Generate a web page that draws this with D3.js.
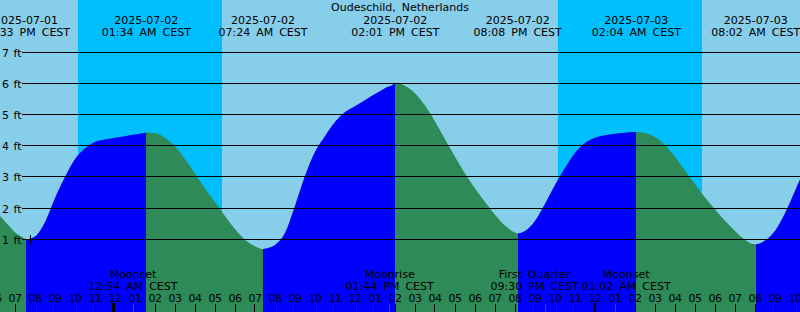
<!DOCTYPE html>
<html>
<head>
    <meta charset="utf-8">
    <title>Oudeschild tide graph</title>
    <script src="https://cdnjs.cloudflare.com/ajax/libs/d3/7.8.5/d3.min.js"></script>
    <style>
        body { margin: 0; background: #fff; }
        svg { display: block; }
        text { font-family: "DejaVu Sans", sans-serif; font-size: 11px; word-spacing: 2.5px; fill: #000; }
        .hour-label { letter-spacing: -0.5px; }
    </style>
</head>
<body>

<div id="chart"></div>

<script type="text/javascript">
    ////////////////////////////////////////////////////////////
    ///////////////////////// Data /////////////////////////////
    ////////////////////////////////////////////////////////////

    var station = "Oudeschild, Netherlands";

    //tide height (ft) every half hour
    var tideTimes = [
        "2025-07-01 18:00", "2025-07-01 18:30", "2025-07-01 19:00", "2025-07-01 19:30",
        "2025-07-01 20:00", "2025-07-01 20:30", "2025-07-01 21:00", "2025-07-01 21:30",
        "2025-07-01 22:00", "2025-07-01 22:30", "2025-07-01 23:00", "2025-07-01 23:30",
        "2025-07-02 00:00", "2025-07-02 00:30", "2025-07-02 01:00", "2025-07-02 01:30",
        "2025-07-02 02:00", "2025-07-02 02:30", "2025-07-02 03:00", "2025-07-02 03:30",
        "2025-07-02 04:00", "2025-07-02 04:30", "2025-07-02 05:00", "2025-07-02 05:30",
        "2025-07-02 06:00", "2025-07-02 06:30", "2025-07-02 07:00", "2025-07-02 07:30",
        "2025-07-02 08:00", "2025-07-02 08:30", "2025-07-02 09:00", "2025-07-02 09:30",
        "2025-07-02 10:00", "2025-07-02 10:30", "2025-07-02 11:00", "2025-07-02 11:30",
        "2025-07-02 12:00", "2025-07-02 12:30", "2025-07-02 13:00", "2025-07-02 13:30",
        "2025-07-02 14:00", "2025-07-02 14:30", "2025-07-02 15:00", "2025-07-02 15:30",
        "2025-07-02 16:00", "2025-07-02 16:30", "2025-07-02 17:00", "2025-07-02 17:30",
        "2025-07-02 18:00", "2025-07-02 18:30", "2025-07-02 19:00", "2025-07-02 19:30",
        "2025-07-02 20:00", "2025-07-02 20:30", "2025-07-02 21:00", "2025-07-02 21:30",
        "2025-07-02 22:00", "2025-07-02 22:30", "2025-07-02 23:00", "2025-07-02 23:30",
        "2025-07-03 00:00", "2025-07-03 00:30", "2025-07-03 01:00", "2025-07-03 01:30",
        "2025-07-03 02:00", "2025-07-03 02:30", "2025-07-03 03:00", "2025-07-03 03:30",
        "2025-07-03 04:00", "2025-07-03 04:30", "2025-07-03 05:00", "2025-07-03 05:30",
        "2025-07-03 06:00", "2025-07-03 06:30", "2025-07-03 07:00", "2025-07-03 07:30",
        "2025-07-03 08:00", "2025-07-03 08:30", "2025-07-03 09:00", "2025-07-03 09:30",
        "2025-07-03 10:00", "2025-07-03 10:30"
    ];
    var tideHeights = [
        1.94, 1.57, 1.23, 1.02,
        1.09, 1.55, 2.32, 3.00,
        3.57, 3.91, 4.12, 4.20,
        4.26, 4.31, 4.36, 4.42,
        4.41, 4.26, 3.99, 3.57,
        3.11, 2.63, 2.20, 1.75,
        1.33, 0.99, 0.78, 0.70,
        0.82, 1.20, 2.07, 3.03,
        3.80, 4.31, 4.76, 5.08,
        5.27, 5.46, 5.66, 5.85,
        6.01, 5.93, 5.69, 5.29,
        4.78, 4.21, 3.65, 3.11,
        2.63, 2.20, 1.79, 1.44,
        1.22, 1.27, 1.59, 2.13,
        2.74, 3.29, 3.77, 4.09,
        4.26, 4.34, 4.39, 4.42,
        4.44, 4.41, 4.28, 4.02,
        3.65, 3.21, 2.77, 2.34,
        1.96, 1.60, 1.27, 0.99,
        0.84, 0.96, 1.27, 1.84,
        2.55, 3.29
    ];

    //high and low waters
    var extremeTimes = ["2025-07-01 19:33", "2025-07-02 01:34", "2025-07-02 07:24", "2025-07-02 14:01",
                        "2025-07-02 20:08", "2025-07-03 02:04", "2025-07-03 08:02"];
    var extremeHeights = [1.00, 4.43, 0.69, 6.02, 1.19, 4.44, 0.84];
    var extremeTypes = ["low", "high", "low", "high", "low", "high", "low"];

    //night = sunset to sunrise
    var sunsetTimes = ["2025-07-01 22:09", "2025-07-02 22:09"];
    var sunriseTimes = ["2025-07-02 05:21", "2025-07-03 05:21"];

    var moonTimes = ["2025-07-02 00:54", "2025-07-02 13:44", "2025-07-02 21:30", "2025-07-03 01:02"];
    var moonEvents = ["Moonset", "Moonrise", "First Quarter", "Moonset"];

    var heightTicks = [1, 2, 3, 4, 5, 6, 7];

    var markTime = "2025-07-01 19:46",
        markHeight = 1.0;

    ////////////////////////////////////////////////////////////
    ///////////////////// Initiate SVG /////////////////////////
    ////////////////////////////////////////////////////////////

    var width = 800,
        height = 312;

    var parseTime = d3.utcParse("%Y-%m-%d %H:%M"),
        fmtDate = d3.utcFormat("%Y-%m-%d"),
        fmtTime = d3.utcFormat("%I:%M %p CEST"),
        fmtHour = d3.utcFormat("%I");

    var svg = d3.select("#chart").append("svg")
        .attr("width", width)
        .attr("height", height);

    var x = d3.scaleUtc()
        .domain([parseTime("2025-07-01 18:15"), parseTime("2025-07-03 10:15")])
        .range([0, width]);

    var y = d3.scaleLinear()
        .domain([0, 7])
        .range([270.5, 52.3]);

    //all curve points, extremes included
    var points = tideTimes.map(function(t, i) { return {t: parseTime(t), v: tideHeights[i]}; })
        .concat(extremeTimes.map(function(t, i) { return {t: parseTime(t), v: extremeHeights[i]}; }))
        .sort(function(a, b) { return a.t - b.t; });

    ////////////////////////////////////////////////////////////
    ///////////////////// Sky and water ////////////////////////
    ////////////////////////////////////////////////////////////

    svg.append("rect")
        .attr("width", width)
        .attr("height", height)
        .attr("fill", "#87ceeb");

    svg.selectAll(".night")
        .data(sunsetTimes)
        .enter().append("rect")
        .attr("class", "night")
        .attr("x", function(d) { return Math.round(x(parseTime(d))); })
        .attr("y", 0)
        .attr("width", function(d, i) { return Math.round(x(parseTime(sunriseTimes[i]))) - Math.round(x(parseTime(d))); })
        .attr("height", height)
        .attr("fill", "#00bfff");

    var area = d3.area()
        .x(function(d) { return x(d.t); })
        .y0(height)
        .y1(function(d) { return y(d.v); })
        .curve(d3.curveMonotoneX);

    //falling water everywhere first, rising parts are laid over it
    svg.append("path")
        .datum(points)
        .attr("d", area)
        .attr("fill", "#2e8b57");

    var bounds = [x.domain()[0]].concat(extremeTimes.map(parseTime), [x.domain()[1]]);
    var rising = [];
    for (var i = 1; i < bounds.length; i++) {
        var endType = i - 1 < extremeTypes.length ? extremeTypes[i - 1] : (extremeTypes[extremeTypes.length - 1] == "low" ? "high" : "low");
        if (endType == "high") rising.push([bounds[i - 1], bounds[i]]);
    }

    var defs = svg.append("defs");
    rising.forEach(function(r, i) {
        defs.append("clipPath").attr("id", "rise" + i)
            .append("rect")
            .attr("x", Math.round(x(r[0])))
            .attr("y", 0)
            .attr("width", Math.round(x(r[1])) - Math.round(x(r[0])))
            .attr("height", height);
        svg.append("path")
            .datum(points)
            .attr("d", area)
            .attr("fill", "#0000ff")
            .attr("clip-path", "url(#rise" + i + ")");
    });

    ////////////////////////////////////////////////////////////
    /////////////////////// Grid lines /////////////////////////
    ////////////////////////////////////////////////////////////

    svg.selectAll(".grid")
        .data(heightTicks)
        .enter().append("line")
        .attr("class", "grid")
        .attr("x1", 22)
        .attr("x2", width)
        .attr("y1", function(d) { return Math.floor(y(d)) + 0.5; })
        .attr("y2", function(d) { return Math.floor(y(d)) + 0.5; })
        .attr("stroke", "#000")
        .attr("shape-rendering", "crispEdges");

    svg.selectAll(".ft-label")
        .data(heightTicks)
        .enter().append("text")
        .attr("class", "ft-label")
        .attr("x", 2)
        .attr("y", function(d) { return Math.floor(y(d)) + 4.5; })
        .style("word-spacing", "1px")
        .text(function(d) { return d + " ft"; });

    //little cross on the curve
    var mx = Math.floor(x(parseTime(markTime))) + 0.5,
        my = Math.floor(y(markHeight)) + 0.5;
    svg.append("path")
        .attr("d", "M" + (mx - 4.5) + "," + my + "H" + (mx + 4.5) + "M" + mx + "," + (my - 4.5) + "V" + (my + 4.5))
        .attr("stroke", "#000")
        .attr("shape-rendering", "crispEdges");

    ////////////////////////////////////////////////////////////
    ////////////////////// Top labels //////////////////////////
    ////////////////////////////////////////////////////////////

    svg.append("text")
        .attr("x", width / 2)
        .attr("y", 11)
        .attr("text-anchor", "middle")
        .text(station);

    var ext = svg.selectAll(".extreme")
        .data(extremeTimes)
        .enter().append("g")
        .attr("class", "extreme")
        .attr("transform", function(d) { return "translate(" + x(parseTime(d)) + ",0)"; });

    ext.append("text")
        .attr("y", 23.5)
        .attr("text-anchor", "middle")
        .text(function(d) { return fmtDate(parseTime(d)); });

    ext.append("text")
        .attr("y", 35.5)
        .attr("text-anchor", "middle")
        .text(function(d) { return fmtTime(parseTime(d)); });

    ////////////////////////////////////////////////////////////
    ///////////////////// Bottom axis //////////////////////////
    ////////////////////////////////////////////////////////////

    var hours = d3.utcHour.range(d3.utcHour.offset(x.domain()[0], -1), d3.utcHour.offset(x.domain()[1], 1));

    svg.selectAll(".hour-label")
        .data(hours)
        .enter().append("text")
        .attr("class", "hour-label")
        .attr("x", function(d) { return x(d); })
        .attr("y", 301.5)
        .attr("text-anchor", "middle")
        .text(function(d) { return fmtHour(d); });

    svg.selectAll(".hour-tick")
        .data(hours.filter(function(d) { return d.getUTCHours() != 0; }))
        .enter().append("line")
        .attr("class", "hour-tick")
        .attr("x1", function(d) { return Math.floor(x(d)) + 0.5; })
        .attr("x2", function(d) { return Math.floor(x(d)) + 0.5; })
        .attr("y1", 304)
        .attr("y2", height)
        .attr("stroke", "#000")
        .attr("shape-rendering", "crispEdges");

    svg.selectAll(".day-tick")
        .data(hours.filter(function(d) { return d.getUTCHours() == 0; }))
        .enter().append("rect")
        .attr("class", "day-tick")
        .attr("x", function(d) { return Math.floor(x(d)) - 2; })
        .attr("y", 303)
        .attr("width", 3)
        .attr("height", height - 303)
        .attr("fill", "#000");

    svg.selectAll(".moon-tick")
        .data(moonTimes)
        .enter().append("line")
        .attr("class", "moon-tick")
        .attr("x1", function(d) { return Math.floor(x(parseTime(d))) + 0.5; })
        .attr("x2", function(d) { return Math.floor(x(parseTime(d))) + 0.5; })
        .attr("y1", 304)
        .attr("y2", height)
        .attr("stroke", "#ff0000")
        .attr("shape-rendering", "crispEdges");

    var moon = svg.selectAll(".moon")
        .data(moonTimes)
        .enter().append("g")
        .attr("class", "moon");

    moon.append("text")
        .attr("y", 278)
        .attr("text-anchor", "middle")
        .text(function(d, i) { return moonEvents[i]; });

    moon.append("text")
        .attr("y", 290)
        .attr("text-anchor", "middle")
        .text(function(d) { return fmtTime(parseTime(d)); });

    //labels that would run into each other are pushed apart
    var moonPos = [];
    moon.each(function(d) {
        var w = 0;
        d3.select(this).selectAll("text").each(function() { w = Math.max(w, this.getComputedTextLength()); });
        moonPos.push({c: x(parseTime(d)), w: w});
    });
    for (var k = 1; k < moonPos.length; k++) {
        var a = moonPos[k - 1], b = moonPos[k];
        var need = (a.w + b.w) / 2 + 3 - (b.c - a.c);
        if (need > 0) { a.c -= need / 2; b.c += need / 2; }
    }
    moon.attr("transform", function(d, i) { return "translate(" + moonPos[i].c + ",0)"; });

</script>
</body>
</html>
